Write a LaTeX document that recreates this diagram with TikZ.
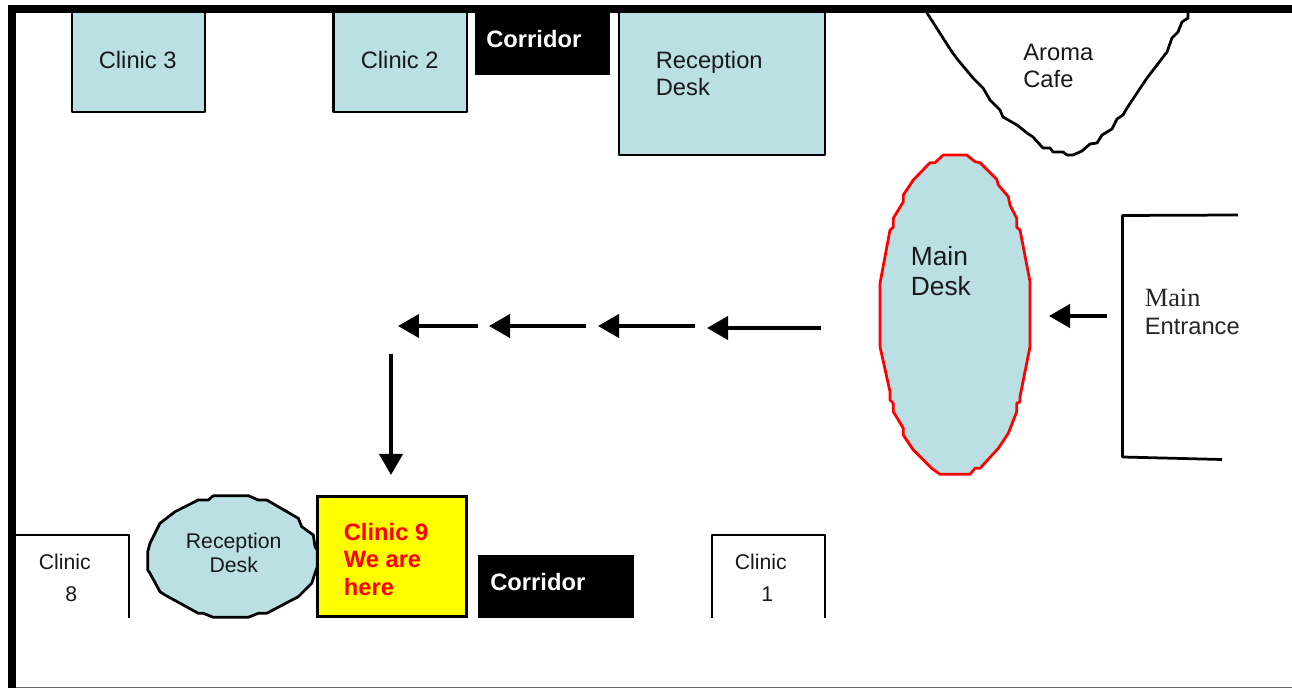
\documentclass[tikz,border=0pt]{standalone}
\usepackage{fontspec}
\setmainfont{Liberation Sans}
\newfontfamily\timesfont{Liberation Serif}
\usetikzlibrary{arrows.meta}
\definecolor{deskblue}{HTML}{BBE0E3}
\definecolor{hereyellow}{HTML}{FFFF00}
\definecolor{herered}{HTML}{FF0000}
\tikzset{
	room/.style={draw=black, line width=0.055cm, line join=round, fill=deskblue},
	wall/.style={draw=black, line width=0.055cm, line join=round},
	mainlabel/.style={anchor=west, inner sep=0, align=left, text=black!90, font=\fontsize{13.5}{15.4}\selectfont},
	smalllabel/.style={anchor=west, inner sep=0, align=center, text=black!90, font=\fontsize{12.1}{13.7}\selectfont},
	boldlabel/.style={anchor=west, inner sep=0, align=left, font=\fontsize{13.5}{15.6}\selectfont\bfseries},
	walkarrow/.style={line width=0.08cm, -{Triangle[length=0.42cm, width=0.46cm]}},
}
\begin{document}
\begin{tikzpicture}[x=0.02cm, y=-0.02cm]
	\useasboundingbox (0, 0) rectangle (1292, 688);
	\fill [white] (0, 0) rectangle (1292, 688);
	
	% top row
	\draw [room] (72, 10) rectangle (205, 112);
	\draw [room] (333.5, 10) rectangle (467, 112);
	\draw [room] (619, 10) rectangle (825, 155);
	\fill [black] (475, 10) rectangle (610, 75);
	\draw [wall] plot coordinates {(927, 13) (952, 52) (958, 60) (973, 78) (983, 88) (990, 100) (1000, 110) (1003, 117) (1017, 125) (1027, 133) (1033, 137) (1043, 148) (1050, 148) (1053, 152) (1063, 152) (1067, 155) (1073, 155) (1082, 151) (1090, 144) (1097, 143) (1102, 135) (1112, 129) (1117, 119) (1123, 115) (1127, 108) (1147, 78) (1167, 52) (1172, 38) (1178, 32) (1182, 22) (1188, 18) (1188, 13)};
	
	% main desk
	\draw [fill=deskblue, draw=herered, line width=0.055cm, line join=round] plot coordinates {(943.3, 155) (966.7, 155) (975, 161.7) (980, 162.7) (996.7, 179.3) (998.3, 185) (1008.3, 196.7) (1010, 205) (1016.7, 218.3) (1016.7, 227.3) (1020, 230) (1030, 281.7) (1030, 346.7) (1020, 396.7) (1020, 401.7) (1016.7, 403.3) (1016.7, 411.7) (1008.3, 433.3) (998.3, 448.3) (980, 468.3) (975, 468.3) (970, 474.3) (940, 474.3) (931.7, 468.3) (913.3, 450) (903.3, 435) (903.3, 428.3) (893.3, 411.7) (893.3, 403.3) (890, 400) (890, 391.7) (880, 346.7) (880, 283.3) (890, 230) (893.3, 227.3) (893.3, 218.3) (903.3, 201.7) (903.3, 195) (913.3, 180) (930, 162.7) (935, 162.7)} -- cycle;
	
	% entrance
	\draw [wall] (1238, 215) -- (1122.5, 215.5) -- (1122.5, 457) -- (1222, 459.5);
	
	% bottom row
	\draw [wall] (16, 535) -- (129, 535) -- (129, 618);
	\draw [wall] (712, 618) -- (712, 535) -- (825, 535) -- (825, 618);
	\draw [room] plot coordinates {(213.3, 495.7) (248.3, 495.7) (258.3, 500) (266.7, 500) (298.3, 518.3) (301.7, 526.7) (313.3, 535) (315, 546.7) (317.3, 550) (317.3, 566.7) (315, 573.3) (311.7, 583.3) (298.3, 596.7) (266.7, 613.3) (258.3, 613.3) (248.3, 617.3) (213.3, 617.3) (203.3, 613.3) (198.3, 613.3) (165, 595) (160, 591.7) (150, 573.3) (147.7, 570) (147.7, 551.7) (150, 543.3) (160, 523.3) (175, 511.7) (198.3, 500) (208.3, 500)} -- cycle;
	\draw [fill=hereyellow, draw=black, line width=0.06cm] (317.5, 496.5) rectangle (466.5, 617);
	\fill [black] (478, 555) rectangle (634, 618);
	
	% outer frame
	\fill [black] (8, 5) rectangle (1292, 13);
	\fill [black] (8, 5) rectangle (16, 688);
	\draw [black!60, line width=0.03cm] (16, 687.3) -- (1292, 687.3);
	
	% labels
	\node [mainlabel] (clinicthree) at (98.5, 60) {Clinic 3};
	\node [mainlabel] (clinictwo) at (360.5, 60) {Clinic 2};
	\node [boldlabel, text=white] (corridortop) at (486, 39) {Corridor};
	\node [mainlabel] (receptiontop) at (655.5, 74) {Reception\\Desk};
	\node [mainlabel] (aroma) at (1023, 66) {Aroma\\Cafe};
	\node [anchor=west, inner sep=0, align=left, text=black!90, font=\fontsize{15}{17}\selectfont] (maindesk) at (910.5, 271) {Main\\Desk};
	\node [anchor=west, inner sep=0, text=black!85, font=\fontsize{15}{15}\selectfont\timesfont] (entrancetop) at (1144.5, 298) {Main};
	\node [mainlabel, text=black!85] (entrancebot) at (1144.5, 326) {Entrance};
	\node [smalllabel] (clinicleft) at (38.5, 562) {Clinic};
	\node [smalllabel] (clinicleftnum) at (65, 594) {8};
	\node [smalllabel] (receptionbot) at (185.5, 553) {Reception\\Desk};
	\node [boldlabel, text=herered] (here) at (343.5, 559.5) {Clinic 9\\We are\\here};
	\node [boldlabel, text=white] (corridorbot) at (490, 582) {Corridor};
	\node [smalllabel] (clinicright) at (734.5, 562) {Clinic};
	\node [smalllabel] (clinicrightnum) at (761, 594) {1};
	
	% way to clinic 9
	\coordinate (doorstart) at (1107, 316);
	\coordinate (doorend) at (1049, 316);
	\coordinate (aone) at (821, 328);
	\coordinate (bone) at (707, 328);
	\coordinate (atwo) at (695, 326);
	\coordinate (btwo) at (598, 326);
	\coordinate (athree) at (586, 326);
	\coordinate (bthree) at (489, 326);
	\coordinate (afour) at (478, 326);
	\coordinate (bfour) at (398, 326);
	\coordinate (afive) at (391, 354);
	\coordinate (bfive) at (391, 475);
	
	\draw [walkarrow] (doorstart) -- (doorend);
	\draw [walkarrow] (aone) -- (bone);
	\draw [walkarrow] (atwo) -- (btwo);
	\draw [walkarrow] (athree) -- (bthree);
	\draw [walkarrow] (afour) -- (bfour);
	\draw [walkarrow] (afive) -- (bfive);
\end{tikzpicture}
\end{document}
